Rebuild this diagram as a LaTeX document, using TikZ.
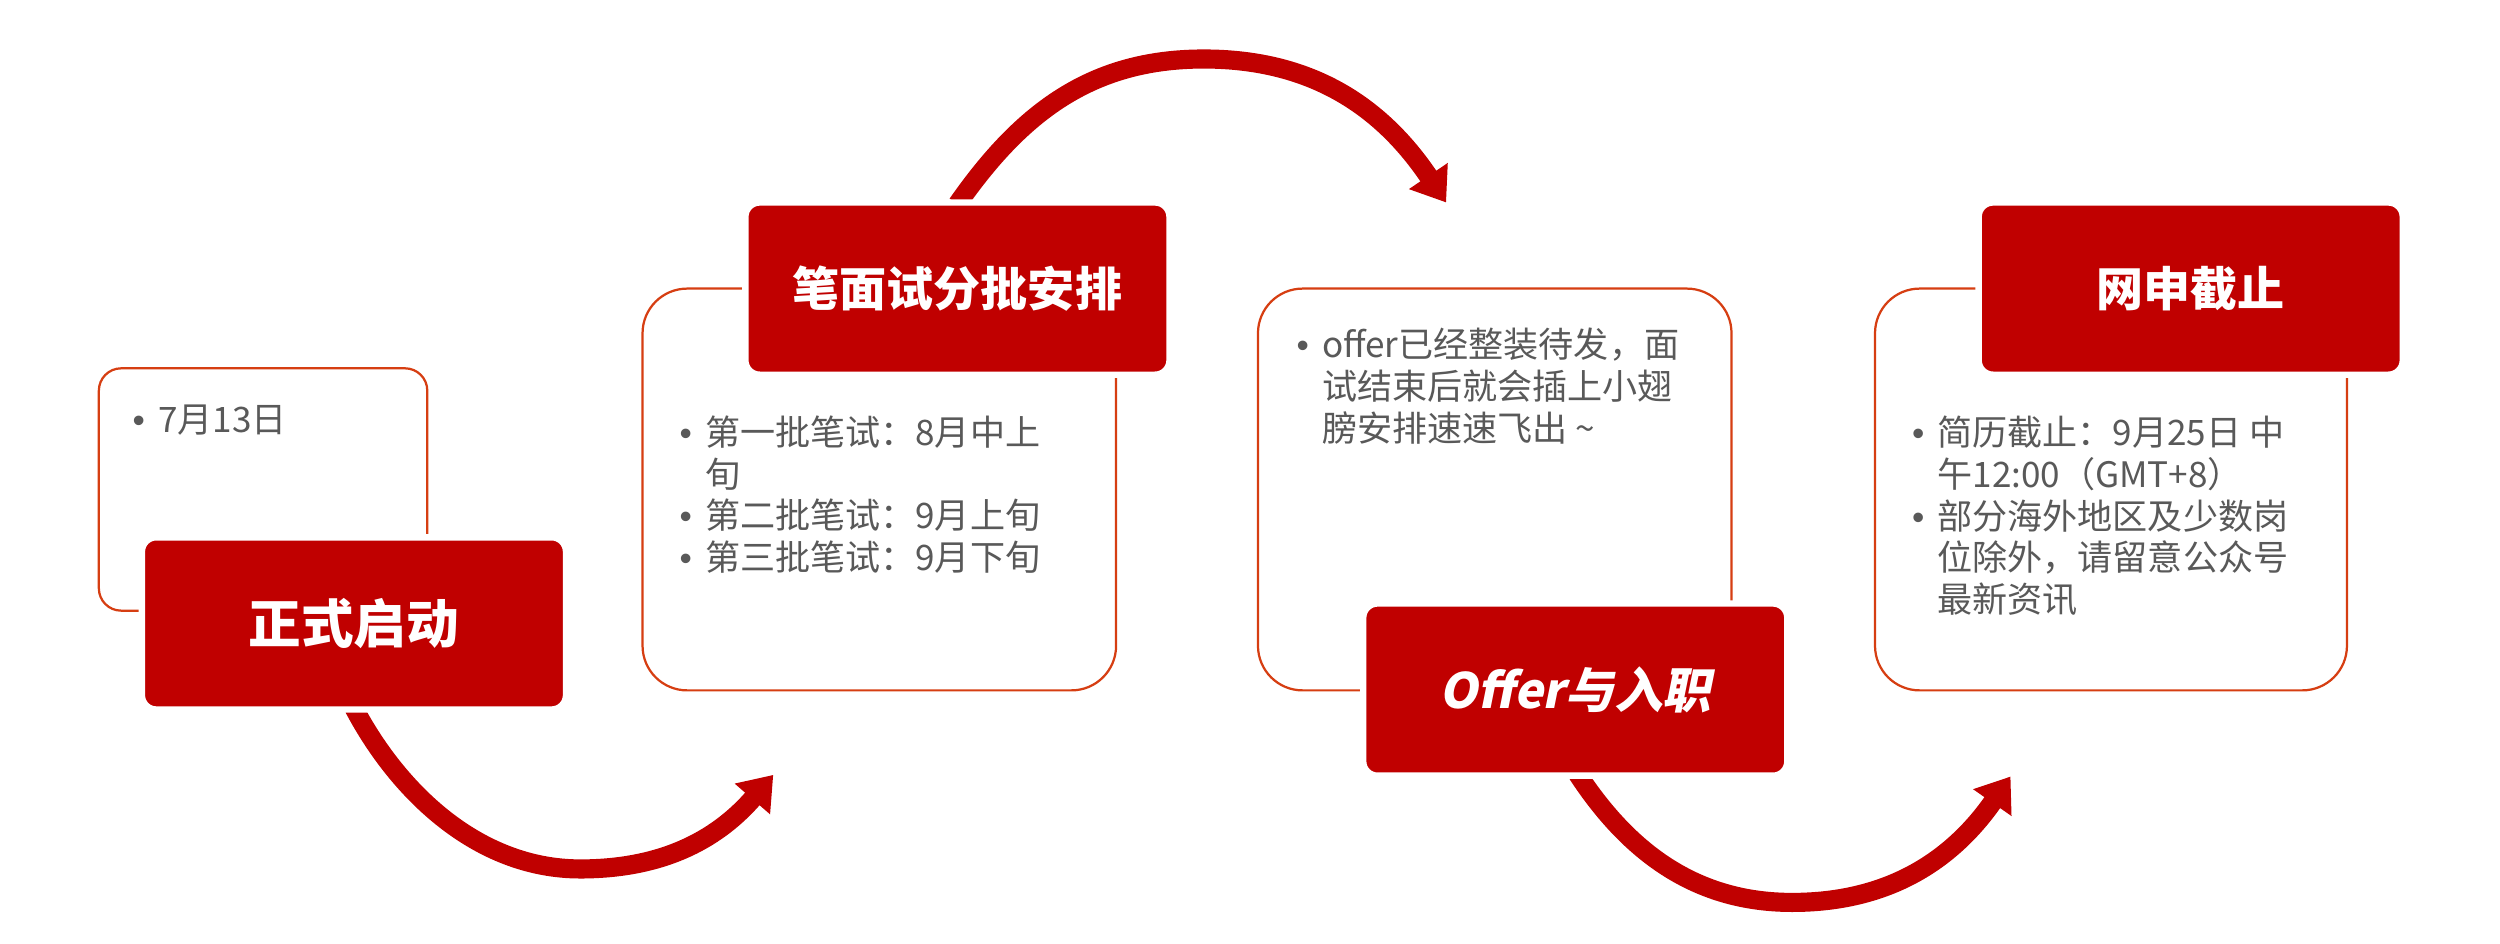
\documentclass[tikz,border=0pt]{standalone}
\usepackage{fontspec}
\setmainfont{Noto Sans CJK SC}
\newfontfamily\slantfont{Noto Sans CJK SC}[FakeSlant=0.2]
\newfontfamily\bulfont{Liberation Sans}
\usetikzlibrary{arrows.meta}
\definecolor{boxred}{RGB}{192,0,0}
\definecolor{lineor}{RGB}{214,62,18}
\definecolor{txtgray}{RGB}{89,89,89}
\newcommand\mybullet{\makebox[14pt][l]{\hspace*{-2pt}{\bulfont •}}}
\pgfdeclarelayer{bglayer}
\pgfdeclarelayer{arrowlayer}
\pgfsetlayers{bglayer,arrowlayer,main}
\begin{document}
\begin{tikzpicture}[x=1pt,y=-1pt,
  outlinebox/.style={draw=lineor, line width=1.4pt, fill=white, inner sep=0pt},
  redbox/.style={fill=boxred, draw=white, line width=4pt, rounded corners=9pt,
    minimum width=266pt, minimum height=108pt, inner sep=0pt, text=white,
    font=\bfseries\fontsize{29.5}{30}\selectfont},
  bodytext/.style={text=txtgray, inner sep=0pt, anchor=base west,
    font=\fontsize{22}{25}\selectfont},
  bigarrow/.style={draw=boxred, line width=12pt, -{Triangle[width=28pt,length=20pt]}},
]
\useasboundingbox (0,0) rectangle (1568,592);

% red title boxes
\node[redbox, font=\bfseries\fontsize{33}{34}\selectfont] (r1) at (222,391) {正式启动};
\node[redbox] (r2) at (600.5,181) {笔面试分批安排};
\node[redbox, font=\bfseries\fontsize{30.5}{31}\selectfont] (r3) at (988,432.5) {\slantfont\bfseries Offer与入职};
\node[redbox] (r4) at (1374,181) {网申截止};

\begin{pgfonlayer}{bglayer}
\node[outlinebox, minimum width=206pt, minimum height=152pt, rounded corners=14pt] (o1) at (165,307) {};
\node[outlinebox, minimum width=297pt, minimum height=252pt, rounded corners=28pt] (o2) at (551.5,307) {};
\node[outlinebox, minimum width=297pt, minimum height=252pt, rounded corners=28pt] (o3) at (937.5,307) {};
\node[outlinebox, minimum width=296pt, minimum height=252pt, rounded corners=28pt] (o4) at (1324,307) {};

\node[bodytext] (t1) at (85,271.5) {\begin{tabular}[t]{@{}l@{}}\mybullet 7月13日\end{tabular}};
\node[bodytext] (t2) at (428,279.5) {\begin{tabular}[t]{@{}l@{}}
\mybullet 第一批笔试：8月中上\\
\hspace*{14pt}旬\\
\mybullet 第二批笔试：9月上旬\\
\mybullet 第三批笔试：9月下旬\end{tabular}};
\node[bodytext] (t3) at (815,224.5) {\begin{tabular}[t]{@{}l@{}}
\mybullet offer已经整装待发，面\\
\hspace*{14pt}试结束后就会插上小翅\\
\hspace*{14pt}膀安排速速飞出 \textasciitilde\end{tabular}};
\node[bodytext] (t4) at (1201,279.5) {\begin{tabular}[t]{@{}l@{}}
\mybullet 简历截止：9月25日 中\\
\hspace*{14pt}午12:00（GMT+8）\\
\mybullet 部分海外地区及少数岗\\
\hspace*{14pt}位除外，请留意公众号\\
\hspace*{14pt}最新资讯\end{tabular}};
\end{pgfonlayer}

\coordinate (a1end) at (485,486);
\coordinate (a2end) at (907,127);
\coordinate (a3end) at (1261,487);

\begin{pgfonlayer}{arrowlayer}
\draw[bigarrow] ([yshift=3pt]r1.south) .. controls (250,497) and (300,545) .. (364,545)
  .. controls (419,545) and (452,524) .. (a1end);
\draw[bigarrow] ([yshift=-3pt]r2.north) .. controls (641,70) and (685,37) .. (755,37)
  .. controls (825,37) and (868,69) .. (a2end);
\draw[bigarrow] ([xshift=1.5pt,yshift=3pt]r3.south) .. controls (1022,535) and (1064,566) .. (1124,566)
  .. controls (1184,566) and (1224,540) .. (a3end);
\end{pgfonlayer}
\end{tikzpicture}
\end{document}
